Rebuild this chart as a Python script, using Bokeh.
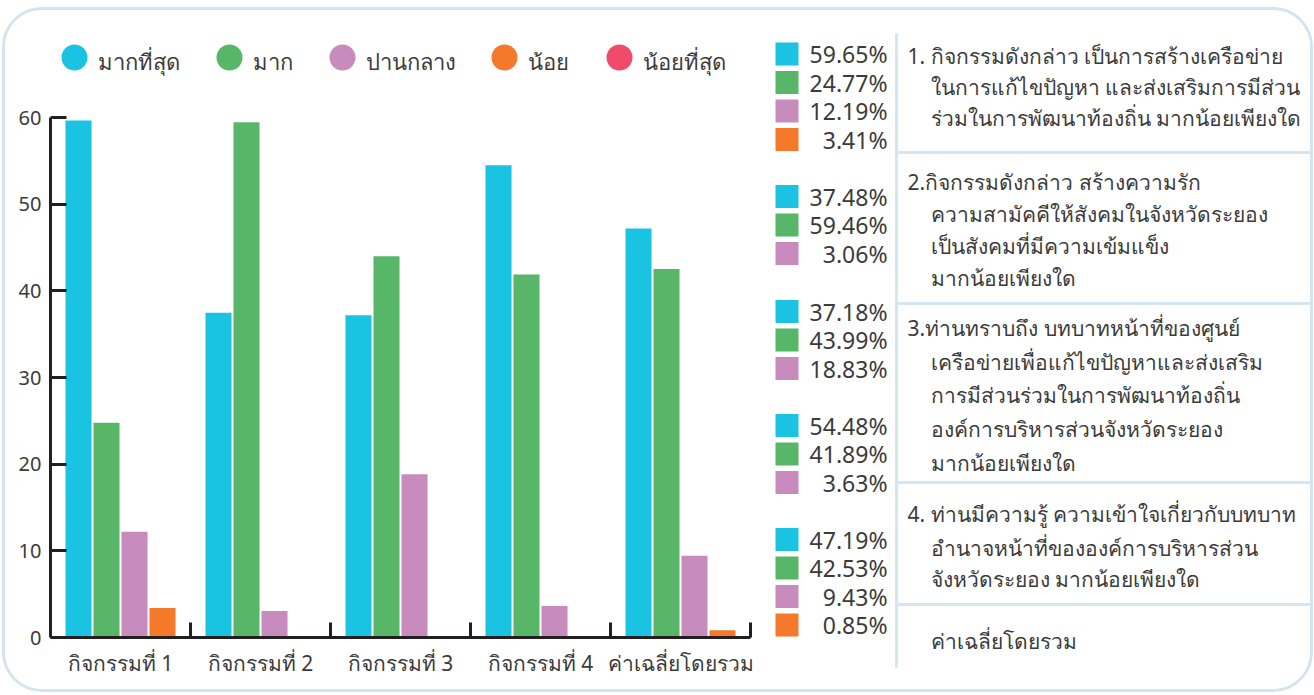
from bokeh.plotting import figure
from bokeh.layouts import row
from bokeh.models import Range1d, FixedTicker
from bokeh.core.properties import value
from bokeh.embed import file_html
from bokeh.resources import INLINE

# ---------------- data ----------------
categories = ["กิจกรรมที่ 1", "กิจกรรมที่ 2", "กิจกรรมที่ 3", "กิจกรรมที่ 4", "ค่าเฉลี่ยโดยรวม"]
series_names = ["มากที่สุด", "มาก", "ปานกลาง", "น้อย", "น้อยที่สุด"]
colors = ["#19c3e1", "#57b668", "#c78bbe", "#f5792b", "#ef4b6b"]
most = [59.65, 37.48, 37.18, 54.48, 47.19]
much = [24.77, 59.46, 43.99, 41.89, 42.53]
moderate = [12.19, 3.06, 18.83, 3.63, 9.43]
little = [3.41, 0, 0, 0, 0.85]
least = [0, 0, 0, 0, 0]
y_ticks = [0, 10, 20, 30, 40, 50, 60]
questions = [
    ["1. กิจกรรมดังกล่าว เป็นการสร้างเครือข่าย", "ในการแก้ไขปัญหา และส่งเสริมการมีส่วน", "ร่วมในการพัฒนาท้องถิ่น มากน้อยเพียงใด"],
    ["2.กิจกรรมดังกล่าว สร้างความรัก", "ความสามัคคีให้สังคมในจังหวัดระยอง", "เป็นสังคมที่มีความเข้มแข็ง", "มากน้อยเพียงใด"],
    ["3.ท่านทราบถึง บทบาทหน้าที่ของศูนย์", "เครือข่ายเพื่อแก้ไขปัญหาและส่งเสริม", "การมีส่วนร่วมในการพัฒนาท้องถิ่น", "องค์การบริหารส่วนจังหวัดระยอง", "มากน้อยเพียงใด"],
    ["4. ท่านมีความรู้ ความเข้าใจเกี่ยวกับบทบาท", "อำนาจหน้าที่ขององค์การบริหารส่วน", "จังหวัดระยอง มากน้อยเพียงใด"],
    ["ค่าเฉลี่ยโดยรวม"],
]
series = [most, much, moderate, little, least]

# ---------------- layout constants (page pixels) ----------------
FONT = value("Noto Sans")
TXT = "#3b3b3b"
AXC = "#231f20"
ORIGIN_X, ORIGIN_Y = 5, 10          # inner top-left of the rounded frame
SPLIT_X = 768                       # boundary between chart and side table
RIGHT_X = 1310
H = 679
W1 = SPLIT_X - ORIGIN_X
W2 = RIGHT_X - SPLIT_X
AX_X, Y0 = 50, 637
PX_GROUP = 140.0
PPU = 520.0 / 60.0


def to_data(xpx, ypx):
    return (xpx - AX_X) / PX_GROUP, (Y0 - ypx) / PPU


# ---------------- left: bar chart ----------------
p1 = figure(width=W1, height=H, output_backend="svg", toolbar_location=None,
            x_range=Range1d(0, (SPLIT_X - AX_X) / PX_GROUP),
            y_range=Range1d(0, (Y0 - ORIGIN_Y) / PPU),
            min_border_left=AX_X - ORIGIN_X, min_border_right=0,
            min_border_top=0, min_border_bottom=ORIGIN_Y + H - Y0)
p1.frame_align = False
p1.grid.visible = False
p1.outline_line_color = None
p1.background_fill_color = "white"
p1.border_fill_color = "white"

n = len(categories)
for j, vals in enumerate(series):
    xs = [i + 0.2 * (j + 1) for i in range(n)]
    p1.vbar(x=xs, top=vals, width=0.186, color=colors[j], line_color=None)

yax = p1.yaxis[0]
yax.ticker = FixedTicker(ticks=y_ticks)
yax.bounds = (y_ticks[0], y_ticks[-1])
yax.axis_line_color = AXC
yax.axis_line_width = 3
yax.major_tick_line_color = AXC
yax.major_tick_line_width = 3
yax.major_tick_in = 16
yax.major_tick_out = 0
yax.minor_tick_line_color = None
yax.major_label_text_font = "Noto Sans"
yax.major_label_text_font_size = "20px"
yax.major_label_text_color = TXT
yax.major_label_standoff = 9

xax = p1.xaxis[0]
centers = [i + 0.5 for i in range(n)]
xax.ticker = FixedTicker(ticks=centers, minor_ticks=[i + 1 for i in range(n)])
xax.major_label_overrides = {c: lab for c, lab in zip(centers, categories)}
xax.bounds = (0, n)
xax.axis_line_color = AXC
xax.axis_line_width = 3
xax.major_tick_line_color = None
xax.minor_tick_line_color = AXC
xax.minor_tick_line_width = 3
xax.minor_tick_in = 15
xax.minor_tick_out = 0
xax.major_label_text_font = "Noto Sans"
xax.major_label_text_font_size = "21px"
xax.major_label_text_color = TXT
xax.major_label_standoff = 5

# legend (top)
legend_cx = [74, 229, 342, 504, 619]
legend_cy = 57
lx, ly, tx, ty = [], [], [], []
for cx in legend_cx:
    a, b = to_data(cx, legend_cy)
    lx.append(a); ly.append(b)
    c, d = to_data(cx + 23, legend_cy + 3)
    tx.append(c); ty.append(d)
p1.scatter(x=lx, y=ly, size=26, marker="circle", color=colors, line_color=None)
p1.text(x=tx, y=ty, text=series_names, text_font=FONT, text_font_size="22px",
        text_color=TXT, text_baseline="middle", text_align="left")

# ---------------- right: percentages + question table ----------------
p2 = figure(width=W2, height=H, output_backend="svg", toolbar_location=None,
            x_range=Range1d(SPLIT_X, RIGHT_X),
            y_range=Range1d(ORIGIN_Y + H, ORIGIN_Y),
            min_border=0, min_border_left=0, min_border_right=0,
            min_border_top=0, min_border_bottom=0)
p2.frame_align = False
p2.axis.visible = False
p2.grid.visible = False
p2.outline_line_color = None
p2.border_fill_color = "white"

group_top = [53.5, 196, 311, 425, 539]
ROW = 28.5
sq_y, sq_c, pct_y, pct_t = [], [], [], []
for i in range(n):
    k = 0
    for j, vals in enumerate(series):
        if vals[i] > 0:
            yy = group_top[i] + k * ROW
            sq_y.append(yy); sq_c.append(colors[j])
            pct_y.append(yy); pct_t.append(f"{vals[i]:.2f}%")
            k += 1
p2.rect(x=[786.5] * len(sq_y), y=sq_y, width=23, height=23, color=sq_c, line_color=None)
p2.text(x=[887] * len(pct_y), y=pct_y, text=pct_t, text_font=FONT, text_font_size="23px",
        text_color=TXT, text_align="right", text_baseline="middle")

LINE_C = "#d6e5ef"
p2.segment(x0=[896], y0=[33], x1=[896], y1=[667], line_color=LINE_C, line_width=3)
seps = [152, 303, 482, 604]
p2.segment(x0=[896] * len(seps), y0=seps, x1=[RIGHT_X] * len(seps), y1=seps,
           line_color=LINE_C, line_width=3)

block_lines_y = [
    [55, 86, 117],
    [181, 213, 245, 277],
    [327, 361, 394, 428, 462],
    [513, 547, 578],
    [640],
]
qx, qy, qt = [], [], []
for bi, lines in enumerate(questions):
    for li, t in enumerate(lines):
        first_numbered = (li == 0 and bi < 4)
        qx.append(907 if first_numbered else 930)
        qy.append(block_lines_y[bi][li])
        qt.append(t)
p2.text(x=qx, y=qy, text=qt, text_font=FONT, text_font_size="21px",
        text_color=TXT, text_align="left", text_baseline="middle")

layout = row(p1, p2, styles={"border": "3px solid #d4e3ed", "border-radius": "40px",
                             "overflow": "hidden", "background-color": "white",
                             "margin-left": "2px", "margin-top": "7px"})

html = file_html(layout, INLINE)
html = html.replace("<body>", '<body style="background-color:#f2f6f5;">', 1)
open("out.html", "w").write(html)
